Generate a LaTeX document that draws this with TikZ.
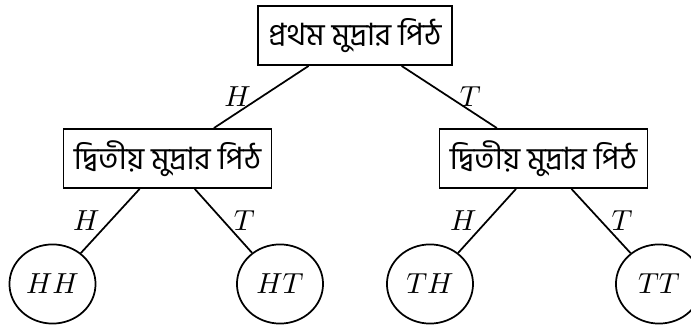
\documentclass[tikz,border=0pt]{standalone}
\usepackage{fontspec}
\newfontfamily\bnfont[Script=Bengali]{Hind Siliguri}
\usetikzlibrary{shapes.geometric}

\begin{document}
\begin{tikzpicture}[x=0.345pt,y=-0.345pt,semithick,
    coinbox/.style={draw,font=\bnfont\fontsize{10.6}{12}\selectfont,
      inner xsep=3.6pt,minimum height=20.4pt},
    outcome/.style={draw,ellipse,inner sep=0pt,
      minimum width=29.7pt,minimum height=27.3pt}]
  \useasboundingbox (0,0) rectangle (691,326);
  % tosses
  \node[coinbox] (first) at (355,35.5) {প্রথম মুদ্রার পিঠ};
  \node[coinbox] (secondH) at (167.5,158.5) {দ্বিতীয় মুদ্রার পিঠ};
  \node[coinbox] (secondT) at (543.5,158.5) {দ্বিতীয় মুদ্রার পিঠ};
  % outcomes
  \node[outcome] (HH) at (52.5,284) {$HH$};
  \node[outcome] (HT) at (280,284) {$HT$};
  \node[outcome] (TH) at (430,284) {$TH$};
  \node[outcome] (TT) at (659,284) {$TT$};
  % branches
  \draw (first) -- node[left] {$H$} (secondH);
  \draw (first) -- node[right] {$T$} (secondT);
  \draw (secondH) -- node[left] {$H$} (HH);
  \draw (secondH) -- node[right] {$T$} (HT);
  \draw (secondT) -- node[left] {$H$} (TH);
  \draw (secondT) -- node[right] {$T$} (TT);
\end{tikzpicture}
\end{document}
